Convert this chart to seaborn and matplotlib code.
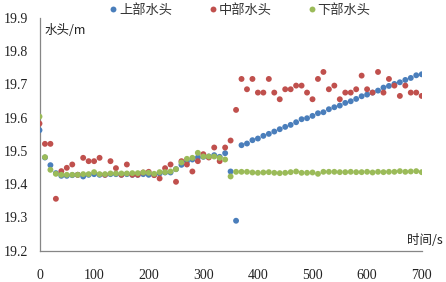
import numpy as np
import pandas as pd
import matplotlib
matplotlib.use("Agg")
import matplotlib.pyplot as plt
import seaborn as sns

time = list(range(0, 701, 10))

upper = [19.562, 19.480, 19.457, 19.433, 19.425, 19.425, 19.427, 19.428, 19.423, 19.428,
         19.430, 19.428, 19.428, 19.430, 19.430, 19.428, 19.430, 19.428, 19.428, 19.430,
         19.428, 19.428, 19.432, 19.435, 19.435, 19.445, 19.458, 19.468, 19.474, 19.480,
         19.482, 19.483, 19.487, 19.482, 19.493, 19.438, 19.290, 19.517, 19.522, 19.532,
         19.537, 19.545, 19.551, 19.558, 19.565, 19.572, 19.578, 19.586, 19.595, 19.598,
         19.605, 19.613, 19.616, 19.625, 19.631, 19.636, 19.644, 19.649, 19.656, 19.664,
         19.669, 19.675, 19.681, 19.690, 19.695, 19.701, 19.706, 19.713, 19.719, 19.727,
         19.730]

middle = [19.582, 19.521, 19.521, 19.356, 19.439, 19.449, 19.459, 19.428, 19.479, 19.469,
          19.469, 19.479, 19.428, 19.469, 19.448, 19.428, 19.459, 19.428, 19.428, 19.435,
          19.437, 19.427, 19.417, 19.448, 19.459, 19.407, 19.469, 19.459, 19.438, 19.469,
          19.490, 19.480, 19.510, 19.469, 19.510, 19.531, 19.623, 19.716, 19.685, 19.716,
          19.675, 19.675, 19.716, 19.675, 19.655, 19.685, 19.685, 19.696, 19.696, 19.675,
          19.655, 19.716, 19.737, 19.685, 19.696, 19.655, 19.675, 19.675, 19.685, 19.726,
          19.685, 19.675, 19.737, 19.675, 19.716, 19.696, 19.665, 19.696, 19.675, 19.675,
          19.665]

lower = [19.603, 19.481, 19.443, 19.431, 19.428, 19.428, 19.428, 19.428, 19.430, 19.430,
         19.436, 19.430, 19.430, 19.432, 19.432, 19.432, 19.432, 19.433, 19.433, 19.435,
         19.434, 19.431, 19.436, 19.436, 19.438, 19.445, 19.465, 19.476, 19.479, 19.494,
         19.483, 19.483, 19.483, 19.479, 19.474, 19.423, 19.437, 19.437, 19.437, 19.435,
         19.434, 19.435, 19.436, 19.434, 19.433, 19.434, 19.436, 19.438, 19.434, 19.434,
         19.435, 19.431, 19.437, 19.437, 19.437, 19.436, 19.436, 19.437, 19.436, 19.436,
         19.437, 19.435, 19.437, 19.436, 19.437, 19.437, 19.439, 19.437, 19.438, 19.439,
         19.436]

series_names = ["上部水头", "中部水头", "下部水头"]
colors = ["#4a7ebb", "#c0504d", "#9bbb59"]

df = pd.concat([
    pd.DataFrame({"time": time, "head": vals, "series": name})
    for name, vals in zip(series_names, [upper, middle, lower])
], ignore_index=True)

sns.set_theme(style="white")
plt.rcParams["font.family"] = ["Noto Sans CJK SC", "DejaVu Sans"]

fig = plt.figure(figsize=(4.46, 2.82), dpi=100)
ax = fig.add_axes([39.5 / 446, 1 - 250.7 / 282, (421.7 - 39.5) / 446, (250.7 - 17.7) / 282])

sns.scatterplot(data=df, x="time", y="head", hue="series", hue_order=series_names,
                palette=colors, s=18, linewidth=0, ax=ax, legend=True, zorder=3)

ax.set_xlim(0, 700)
ax.set_ylim(19.2, 19.9)
ax.set_xticks(range(0, 701, 100))
ax.set_yticks([19.2, 19.3, 19.4, 19.5, 19.6, 19.7, 19.8, 19.9])
ax.set_yticklabels(["19.2", "19.3", "19.4", "19.5", "19.6", "19.7", "19.8", "19.9"])
ax.set_xlabel("")
ax.set_ylabel("")

for side in ["top", "right"]:
    ax.spines[side].set_visible(False)
for side in ["left", "bottom"]:
    ax.spines[side].set_color("#868686")
    ax.spines[side].set_linewidth(0.9)

ax.tick_params(axis="both", direction="in", length=4, width=0.9, color="#868686",
               labelcolor="#222222")
ax.tick_params(axis="x", pad=13)
ax.tick_params(axis="y", pad=8)
for lbl in ax.get_xticklabels() + ax.get_yticklabels():
    lbl.set_fontfamily("Liberation Serif")
    lbl.set_fontsize(10)

ax.text(0.012, 0.947, "水头/m", transform=ax.transAxes, ha="left", va="center",
        fontsize=9, color="#222222")
ax.text(1.009, 0.042, "时间/s", transform=ax.transAxes, ha="center", va="center",
        fontsize=9, color="#222222")

leg = ax.legend(loc="center", bbox_to_anchor=(240 / 446, 1 - 10 / 282),
                bbox_transform=fig.transFigure, ncol=3, frameon=False,
                fontsize=9.5, handlelength=0.6, handletextpad=0.15, columnspacing=2.75,
                markerscale=1.0, borderaxespad=0, borderpad=0)
for t in leg.get_texts():
    t.set_color("#333333")

fig.savefig("out.png", dpi=100)
